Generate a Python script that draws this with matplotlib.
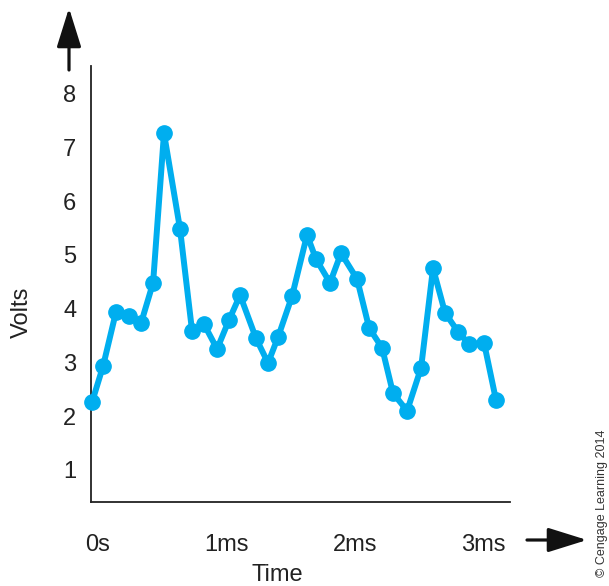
import numpy as np
import matplotlib
matplotlib.use("Agg")
import matplotlib.pyplot as plt

# sample times (ms) and voltages
time_ms = [-0.047, 0.039, 0.140, 0.242, 0.335, 0.429, 0.514, 0.639, 0.733,
           0.826, 0.928, 1.021, 1.107, 1.231, 1.325, 1.403, 1.512, 1.629,
           1.699, 1.808, 1.894, 2.019, 2.113, 2.214, 2.299, 2.409, 2.518,
           2.611, 2.705, 2.806, 2.892, 3.009, 3.102]
volts = [2.26, 2.93, 3.94, 3.86, 3.73, 4.48, 7.26, 5.48, 3.58,
         3.71, 3.25, 3.79, 4.25, 3.45, 2.99, 3.47, 4.23, 5.37,
         4.92, 4.48, 5.03, 4.55, 3.64, 3.27, 2.43, 2.10, 2.90,
         4.75, 3.92, 3.57, 3.34, 3.36, 2.30]

x_ticks = [0, 1, 2, 3]
x_tick_labels = ["0s", "1ms", "2ms", "3ms"]
y_ticks = [1, 2, 3, 4, 5, 6, 7, 8]

W, H = 609, 586
plt.rcParams['font.family'] = ['Liberation Sans', 'DejaVu Sans']

fig = plt.figure(figsize=(W / 100, H / 100), dpi=100)
ax = fig.add_axes([91 / W, 1 - 502 / H, (510 - 91) / W, (502 - 66) / H])

ax.plot(time_ms, volts, color="#00AEEF", linewidth=4.3, marker="o",
        markersize=11, solid_joinstyle="round", clip_on=False, zorder=3)

ax.set_xlim(-0.055, 3.211)
ax.set_ylim(0.405, 8.51)

ax.spines["top"].set_visible(False)
ax.spines["right"].set_visible(False)
for s in ("left", "bottom"):
    ax.spines[s].set_linewidth(1.3)
    ax.spines[s].set_color("#222222")

ax.set_xticks(x_ticks)
ax.set_xticklabels(x_tick_labels)
ax.set_yticks(y_ticks)
ax.tick_params(axis="both", length=0, labelsize=17, colors="#222222")
ax.tick_params(axis="x", pad=23)
ax.tick_params(axis="y", pad=10.5)

fig.text(277 / W, 1 - 575 / H, "Time", fontsize=17, ha="center", va="center",
         color="#222222")
fig.text(22 / W, 1 - 312 / H, "Volts", fontsize=17, ha="center", va="center",
         rotation=90, color="#222222")

# axis direction arrows
arrow = dict(arrowstyle="-|>,head_length=1.6,head_width=0.5", color="#111111",
             lw=2.3, mutation_scale=15, shrinkA=0, shrinkB=0)
fig.add_artist(matplotlib.patches.FancyArrowPatch(
    (69 / W, 1 - 70 / H), (69 / W, 1 - 8 / H), transform=fig.transFigure, **arrow))
fig.add_artist(matplotlib.patches.FancyArrowPatch(
    (527 / W, 1 - 540 / H), (587 / W, 1 - 540 / H), transform=fig.transFigure, **arrow))

fig.text(602 / W, 1 - 503 / H, "\u00a9 Cengage Learning 2014", fontsize=9,
         rotation=90, ha="center", va="center", color="#333333")

fig.savefig("out.png", dpi=100)
